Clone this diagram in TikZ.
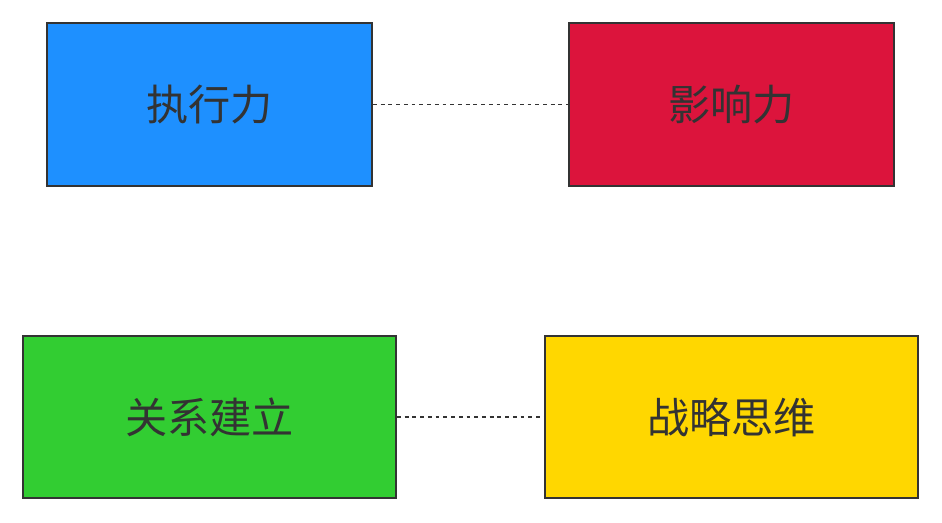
\documentclass[tikz,border=0pt]{standalone}
\usepackage{fontspec}
\setmainfont{Noto Sans CJK SC}
\definecolor{boxline}{HTML}{333333}
\definecolor{cblue}{HTML}{1E90FF}
\definecolor{cred}{HTML}{DC143C}
\definecolor{cgreen}{HTML}{32CD32}
\definecolor{cgold}{HTML}{FFD700}
\tikzset{
  skillbox/.style={draw=boxline, line width=1.1pt, text=boxline,
    font=\fontsize{24}{28}\selectfont, inner sep=0pt},
  link/.style={draw=boxline, line width=1.1pt, dash pattern=on 2.2pt off 2.2pt}
}
\begin{document}
\begin{tikzpicture}[x=0.02cm, y=-0.02cm]
    \useasboundingbox (0,0) rectangle (942,522);
    %%top row
    \node[skillbox, fill=cblue, minimum width=6.5cm, minimum height=3.26cm] (exec) at (209.5,104.5) {执行力};
    \node[skillbox, fill=cred, minimum width=6.5cm, minimum height=3.26cm] (infl) at (731.5,104.5) {影响力};
    %%bottom row
    \node[skillbox, fill=cgreen, minimum width=7.46cm, minimum height=3.24cm] (rel) at (209.5,417) {关系建立};
    \node[skillbox, fill=cgold, minimum width=7.46cm, minimum height=3.24cm] (strat) at (731.5,417) {战略思维};
    %%links
    \draw[link] (exec) -- (infl);
    \draw[link] (rel) -- (strat);
\end{tikzpicture}
\end{document}
